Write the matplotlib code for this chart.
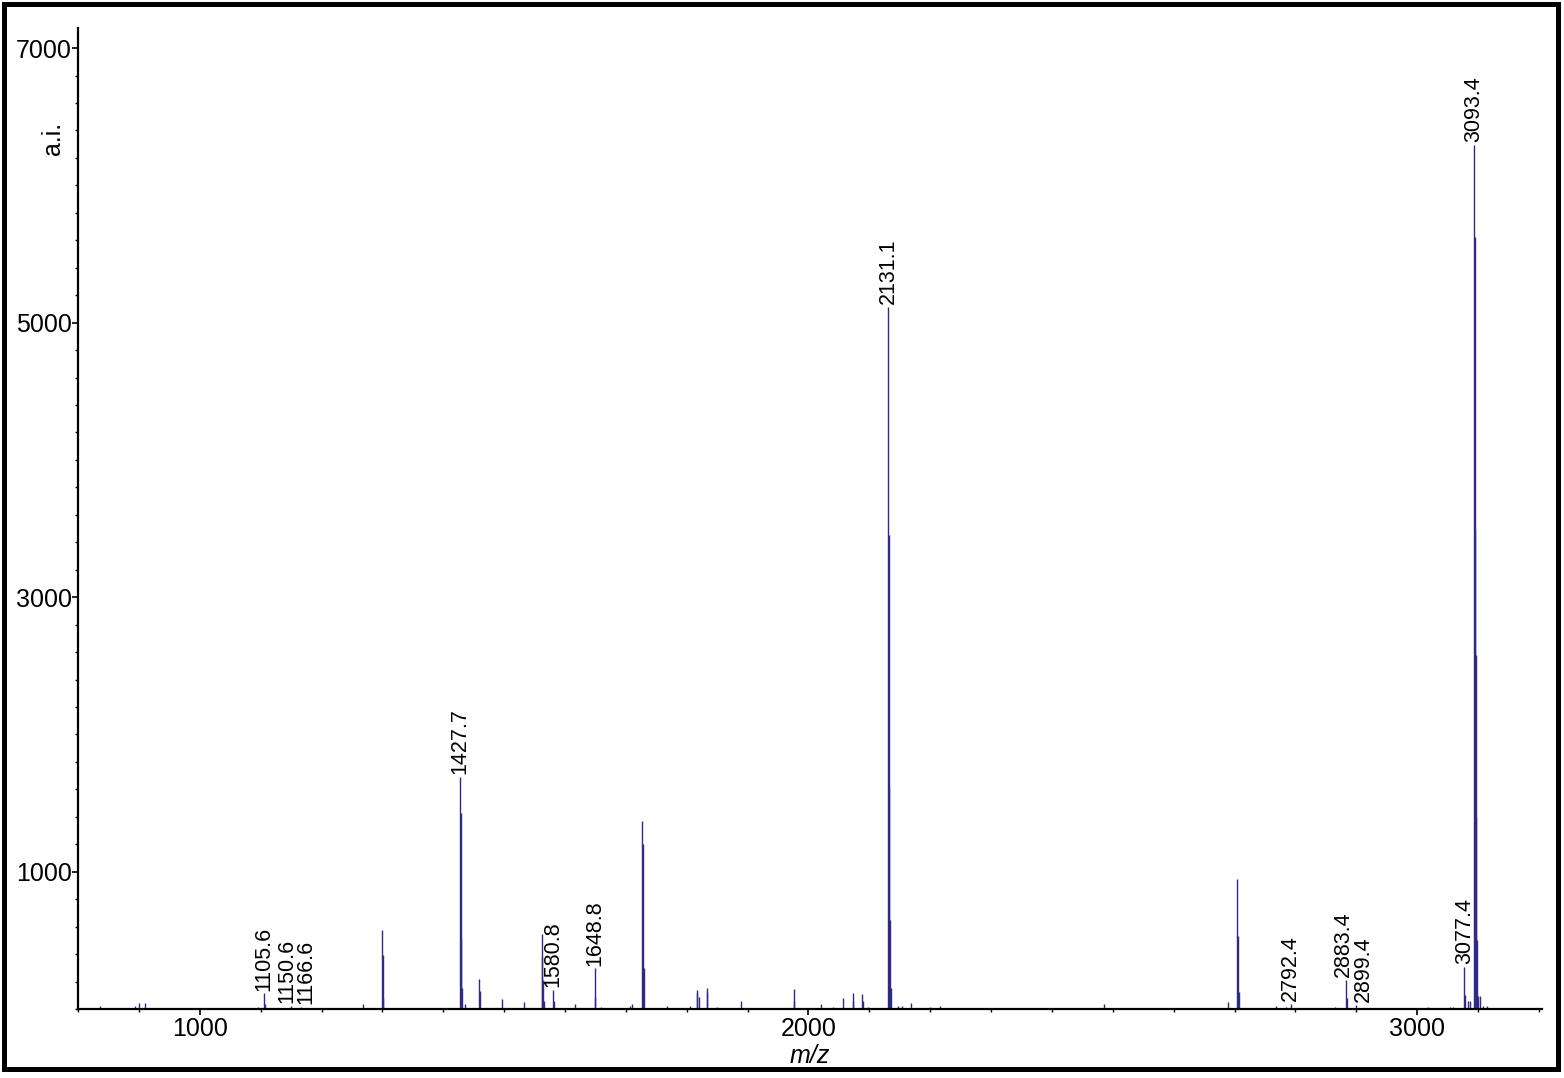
import matplotlib
matplotlib.use("Agg")
import matplotlib.pyplot as plt
from matplotlib.patches import Rectangle
from matplotlib.ticker import FixedLocator, MultipleLocator

plt.rcParams['font.family'] = ['Liberation Sans', 'DejaVu Sans']

# peak list (m/z, intensity a.i.)
mz = [836.4, 894.0, 900.4, 910.3,
      1096.4, 1105.6, 1106.6, 1150.6, 1166.6, 1268.9, 1299.6, 1300.6, 1301.6,
      1427.7, 1428.7, 1429.7, 1430.7, 1435.9, 1459.4, 1460.4, 1465.0, 1474.0,
      1496.2, 1513.6, 1532.8, 1561.9, 1562.9, 1563.9, 1564.9, 1580.8, 1581.8,
      1616.6, 1642.4, 1648.8, 1649.8, 1659.3, 1707.0, 1710.7,
      1727.2, 1728.2, 1729.2, 1743.0, 1767.2, 1805.5, 1816.5, 1817.5, 1820.0,
      1832.9, 1833.9, 1849.4, 1889.4, 1975.8, 1976.8, 2020.8, 2041.0, 2056.3,
      2072.7, 2073.7, 2088.6, 2089.6, 2098.0,
      2131.1, 2132.1, 2133.1, 2134.1, 2135.1, 2147.7, 2153.0, 2169.0, 2199.7,
      2216.0, 2485.5, 2498.0, 2564.0, 2600.0, 2689.7, 2704.5, 2705.5, 2707.8,
      2720.0, 2726.0, 2768.6, 2784.0, 2792.4, 2865.6, 2883.4, 2884.4, 2899.4,
      3017.0, 3053.9, 3058.8, 3077.4, 3078.4, 3083.0, 3086.0,
      3093.4, 3094.4, 3095.4, 3096.4, 3097.4, 3098.4, 3100.3, 3103.0, 3108.0,
      3115.0, 3130.0]
intensity = [20, 25, 46, 41,
             17, 114, 40, 22, 17, 36, 575, 393, 80,
             1692, 1427, 517, 150, 36, 218, 134, 10, 10,
             70, 10, 51, 544, 376, 211, 60, 138, 60,
             34, 10, 296, 85, 15, 25, 38,
             1369, 1200, 300, 10, 20, 25, 138, 114, 90,
             155, 126, 15, 58, 143, 60, 36, 15, 78,
             119, 60, 107, 60, 15,
             5113, 3452, 1617, 650, 150, 25, 25, 41, 15,
             22, 40, 10, 8, 8, 48, 947, 532, 126,
             10, 10, 20, 15, 36, 15, 213, 80, 29,
             15, 15, 15, 306, 100, 55, 55,
             6293, 5623, 3500, 2578, 1400, 500, 97, 95, 25,
             25, 10]

label_mz = [1105.6, 1150.6, 1166.6, 1427.7, 1580.8, 1648.8, 2131.1,
            2792.4, 2883.4, 2899.4, 3077.4, 3093.4]
# sideways nudge (points) so crowded labels sit next to each other
label_dx = [0, -3.5, 3.5, 0, 0, 0, 0, 0, -2.0, 5.5, 0, 0]

fig = plt.figure(figsize=(15.64, 10.78), dpi=100)
ax = fig.add_axes([0.0499, 0.0640, 0.9360, 0.9100])

ax.vlines(mz, 0, intensity, color='#2d2b86', lw=1.0)

for m, dx in zip(label_mz, label_dx):
    h = max(v for x, v in zip(mz, intensity) if abs(x - m) < 0.5)
    ax.annotate(f"{m:.1f}", xy=(m, h), xytext=(dx, 2), textcoords='offset points',
                rotation=90, ha='center', va='bottom', fontsize=15.5)

ax.set_xlim(800, 3205)
ax.set_ylim(0, 7146)

for side in ['top', 'right']:
    ax.spines[side].set_visible(False)
for side in ['left', 'bottom']:
    ax.spines[side].set_linewidth(1.6)

ax.xaxis.set_major_locator(FixedLocator([1000, 2000, 3000]))
ax.xaxis.set_minor_locator(MultipleLocator(100))
ax.yaxis.set_major_locator(FixedLocator([1000, 3000, 5000, 7000]))
ax.yaxis.set_minor_locator(MultipleLocator(200))
ax.tick_params(axis='both', which='major', labelsize=18, width=1.2, length=4)
ax.tick_params(axis='both', which='minor', width=1.0, length=2.5)
ax.tick_params(axis='y', which='major', pad=0.5)
ax.tick_params(axis='x', which='major', pad=2)

ax.set_xlabel("m/z", fontsize=18, style='italic', labelpad=2)
ax.text(-0.017, 0.887, "a.i.", transform=ax.transAxes, rotation=90,
        ha='center', va='center', fontsize=18)

fig.patches.append(Rectangle((0.00256, 0.00835), 0.99392, 0.98794,
                             transform=fig.transFigure, fill=False,
                             lw=3.6, ec='black'))

fig.savefig("out.png", dpi=100)
